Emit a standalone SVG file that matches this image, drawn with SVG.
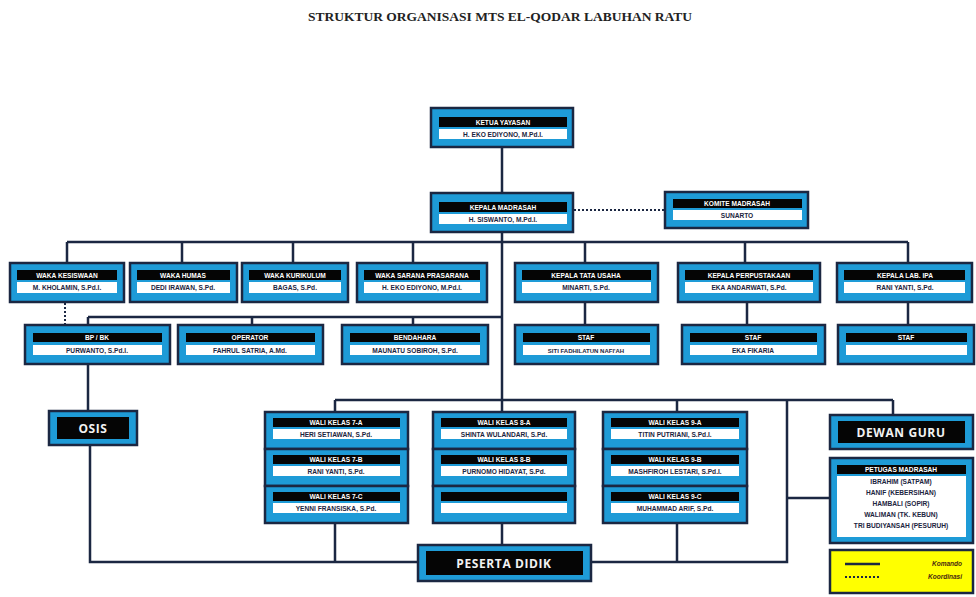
<svg xmlns="http://www.w3.org/2000/svg" width="976" height="597" viewBox="0 0 976 597">
<style>
.bx{fill:#1e9bd7;stroke:#1b2742;stroke-width:2.5}
.hd{fill:#050505}
.wt{fill:#ffffff}
.ht{fill:#ffffff;font-family:"Liberation Sans",Arial,sans-serif;font-weight:bold;font-size:6.6px;text-anchor:middle}
.nt{fill:#1b2540;font-family:"Liberation Sans",Arial,sans-serif;font-weight:bold;font-size:6.6px;text-anchor:middle}
.big{fill:#f2f2f2;font-family:"Open Sans","Liberation Sans",sans-serif;font-weight:bold;font-size:12px;text-anchor:middle;letter-spacing:0.6px}
.ln{fill:none;stroke:#1b2742;stroke-width:2.5}
.dt{fill:none;stroke:#1b2742;stroke-width:2;stroke-dasharray:2 2}
.lg{fill:#4a2a10;font-family:"Liberation Sans",Arial,sans-serif;font-style:italic;font-weight:bold;font-size:6.5px;text-anchor:end}
</style>
<rect width="976" height="597" fill="#ffffff"/>
<text x="500" y="21" font-family="Liberation Serif,'Times New Roman',serif" font-weight="bold" font-size="11.5" text-anchor="middle" fill="#222" textLength="384" lengthAdjust="spacingAndGlyphs">STRUKTUR ORGANISASI MTS EL-QODAR LABUHAN RATU</text>

<g id="connectors">
<path class="ln" d="M502,147V193"/>
<path class="dt" d="M574,210H665"/>
<path class="ln" d="M502,232V412"/>
<path class="ln" d="M67,242H908"/>
<path class="ln" d="M67,242V263M182,242V263M293,242V263M413,242V263M585,242V263M745,242V263M908,242V263"/>
<path class="dt" d="M65,303V325"/>
<path class="ln" d="M88,317H502M88,317V325M252,317V325M413,317V325"/>
<path class="ln" d="M585,302V325M747,302V325M908,302V325"/>
<path class="ln" d="M88,364V411"/>
<path class="ln" d="M90,445V562H418"/>
<path class="ln" d="M591,562H787V400"/>
<path class="ln" d="M335,400H893M335,400V412M677,400V412M893,400V415"/>
<path class="ln" d="M335,523V562M677,523V562M502,523V545"/>
<path class="ln" d="M787,498H830"/>
</g>

<g id="ketua-yayasan">
<rect class="bx" x="431" y="108" width="142" height="39"/>
<rect class="hd" x="439" y="117" width="128" height="10"/>
<rect class="wt" x="439" y="129" width="128" height="10"/>
<text class="ht" x="503" y="124.5">KETUA YAYASAN</text>
<text class="nt" x="503" y="136.5">H. EKO EDIYONO, M.Pd.I.</text>
</g>

<g id="kepala-madrasah">
<rect class="bx" x="431" y="193" width="142" height="39"/>
<rect class="hd" x="439" y="202" width="128" height="10"/>
<rect class="wt" x="439" y="214" width="128" height="10"/>
<text class="ht" x="503" y="209.5">KEPALA MADRASAH</text>
<text class="nt" x="503" y="221.5">H. SISWANTO, M.Pd.I.</text>
</g>

<g id="komite-madrasah">
<rect class="bx" x="665" y="192" width="143" height="36"/>
<rect class="hd" x="673" y="199" width="129" height="9"/>
<rect class="wt" x="673" y="210" width="129" height="10"/>
<text class="ht" x="737" y="206">KOMITE MADRASAH</text>
<text class="nt" x="737" y="217.5">SUNARTO</text>
</g>

<g id="waka-kesiswaan">
<rect class="bx" x="10" y="263" width="114" height="39"/>
<rect class="hd" x="17" y="270" width="100" height="10"/>
<rect class="wt" x="17" y="282" width="100" height="11"/>
<text class="ht" x="67" y="277.5">WAKA KESISWAAN</text>
<text class="nt" x="67" y="290">M. KHOLAMIN, S.Pd.I.</text>
</g>

<g id="waka-humas">
<rect class="bx" x="130" y="263" width="107" height="39"/>
<rect class="hd" x="137" y="270" width="93" height="10"/>
<rect class="wt" x="137" y="282" width="93" height="11"/>
<text class="ht" x="183" y="277.5">WAKA HUMAS</text>
<text class="nt" x="183" y="290">DEDI IRAWAN, S.Pd.</text>
</g>

<g id="waka-kurikulum">
<rect class="bx" x="242" y="263" width="106" height="39"/>
<rect class="hd" x="249" y="270" width="92" height="10"/>
<rect class="wt" x="249" y="282" width="92" height="11"/>
<text class="ht" x="295" y="277.5">WAKA KURIKULUM</text>
<text class="nt" x="295" y="290">BAGAS, S.Pd.</text>
</g>

<g id="waka-sarana">
<rect class="bx" x="357" y="263" width="130" height="39"/>
<rect class="hd" x="364" y="270" width="116" height="10"/>
<rect class="wt" x="364" y="282" width="116" height="11"/>
<text class="ht" x="422" y="277.5">WAKA SARANA PRASARANA</text>
<text class="nt" x="422" y="290">H. EKO EDIYONO, M.Pd.I.</text>
</g>

<g id="kepala-tu">
<rect class="bx" x="515" y="263" width="143" height="39"/>
<rect class="hd" x="522" y="270" width="129" height="10"/>
<rect class="wt" x="522" y="282" width="129" height="11"/>
<text class="ht" x="586" y="277.5">KEPALA TATA USAHA</text>
<text class="nt" x="586" y="290">MINARTI, S.Pd.</text>
</g>

<g id="kepala-perpustakaan">
<rect class="bx" x="678" y="263" width="142" height="39"/>
<rect class="hd" x="685" y="270" width="128" height="10"/>
<rect class="wt" x="685" y="282" width="128" height="11"/>
<text class="ht" x="749" y="277.5">KEPALA PERPUSTAKAAN</text>
<text class="nt" x="749" y="290">EKA ANDARWATI, S.Pd.</text>
</g>

<g id="kepala-lab">
<rect class="bx" x="837" y="263" width="135" height="39"/>
<rect class="hd" x="844" y="270" width="121" height="10"/>
<rect class="wt" x="844" y="282" width="121" height="11"/>
<text class="ht" x="905" y="277.5">KEPALA LAB. IPA</text>
<text class="nt" x="905" y="290">RANI YANTI, S.Pd.</text>
</g>

<g id="bp-bk">
<rect class="bx" x="25" y="325" width="145" height="39"/>
<rect class="hd" x="33" y="333" width="129" height="9"/>
<rect class="wt" x="33" y="345" width="129" height="10"/>
<text class="ht" x="97" y="340">BP / BK</text>
<text class="nt" x="97" y="352.5">PURWANTO, S.Pd.I.</text>
</g>

<g id="operator">
<rect class="bx" x="178" y="325" width="145" height="39"/>
<rect class="hd" x="186" y="333" width="129" height="9"/>
<rect class="wt" x="186" y="345" width="129" height="10"/>
<text class="ht" x="250" y="340">OPERATOR</text>
<text class="nt" x="250" y="352.5">FAHRUL SATRIA, A.Md.</text>
</g>

<g id="bendahara">
<rect class="bx" x="342" y="325" width="146" height="39"/>
<rect class="hd" x="350" y="333" width="130" height="9"/>
<rect class="wt" x="350" y="345" width="130" height="10"/>
<text class="ht" x="415" y="340">BENDAHARA</text>
<text class="nt" x="415" y="352.5">MAUNATU SOBIROH, S.Pd.</text>
</g>

<g id="staf-tu">
<rect class="bx" x="515" y="325" width="143" height="39"/>
<rect class="hd" x="523" y="333" width="127" height="9"/>
<rect class="wt" x="523" y="345" width="127" height="10"/>
<text class="ht" x="586" y="340">STAF</text>
<text class="nt" x="586" y="352.5" style="font-size:6px">SITI FADHILATUN NAFI'AH</text>
</g>

<g id="staf-perpustakaan">
<rect class="bx" x="682" y="325" width="143" height="39"/>
<rect class="hd" x="690" y="333" width="127" height="9"/>
<rect class="wt" x="690" y="345" width="127" height="10"/>
<text class="ht" x="753" y="340">STAF</text>
<text class="nt" x="753" y="352.5">EKA FIKARIA</text>
</g>

<g id="staf-lab">
<rect class="bx" x="838" y="325" width="136" height="39"/>
<rect class="hd" x="846" y="333" width="121" height="9"/>
<rect class="wt" x="846" y="345" width="121" height="10"/>
<text class="ht" x="906" y="340">STAF</text>
</g>

<g id="osis">
<rect class="bx" x="49" y="411" width="88" height="34"/>
<rect class="hd" x="57" y="417" width="72" height="22"/>
<text class="big" x="93" y="432.5">OSIS</text>
</g>

<g id="wali-kelas-7">
<rect class="bx" x="265" y="412" width="143" height="37"/>
<rect class="hd" x="273" y="418" width="127" height="9"/>
<rect class="wt" x="273" y="429" width="127" height="10"/>
<text class="ht" x="336" y="425">WALI KELAS 7-A</text>
<text class="nt" x="336" y="436.5">HERI SETIAWAN, S.Pd.</text>
<rect class="bx" x="265" y="449" width="143" height="37"/>
<rect class="hd" x="273" y="455" width="127" height="9"/>
<rect class="wt" x="273" y="466" width="127" height="10"/>
<text class="ht" x="336" y="462">WALI KELAS 7-B</text>
<text class="nt" x="336" y="473.5">RANI YANTI, S.Pd.</text>
<rect class="bx" x="265" y="486" width="143" height="37"/>
<rect class="hd" x="273" y="492" width="127" height="9"/>
<rect class="wt" x="273" y="503" width="127" height="10"/>
<text class="ht" x="336" y="499">WALI KELAS 7-C</text>
<text class="nt" x="336" y="510.5">YENNI FRANSISKA, S.Pd.</text>
</g>

<g id="wali-kelas-8">
<rect class="bx" x="433" y="412" width="142" height="37"/>
<rect class="hd" x="441" y="418" width="126" height="9"/>
<rect class="wt" x="441" y="429" width="126" height="10"/>
<text class="ht" x="504" y="425">WALI KELAS 8-A</text>
<text class="nt" x="504" y="436.5">SHINTA WULANDARI, S.Pd.</text>
<rect class="bx" x="433" y="449" width="142" height="37"/>
<rect class="hd" x="441" y="455" width="126" height="9"/>
<rect class="wt" x="441" y="466" width="126" height="10"/>
<text class="ht" x="504" y="462">WALI KELAS 8-B</text>
<text class="nt" x="504" y="473.5">PURNOMO HIDAYAT, S.Pd.</text>
<rect class="bx" x="433" y="486" width="142" height="37"/>
<rect class="hd" x="441" y="492" width="126" height="9"/>
<rect class="wt" x="441" y="503" width="126" height="10"/>
</g>

<g id="wali-kelas-9">
<rect class="bx" x="603" y="412" width="144" height="37"/>
<rect class="hd" x="611" y="418" width="128" height="9"/>
<rect class="wt" x="611" y="429" width="128" height="10"/>
<text class="ht" x="675" y="425">WALI KELAS 9-A</text>
<text class="nt" x="675" y="436.5">TITIN PUTRIANI, S.Pd.I.</text>
<rect class="bx" x="603" y="449" width="144" height="37"/>
<rect class="hd" x="611" y="455" width="128" height="9"/>
<rect class="wt" x="611" y="466" width="128" height="10"/>
<text class="ht" x="675" y="462">WALI KELAS 9-B</text>
<text class="nt" x="675" y="473.5">MASHFIROH LESTARI, S.Pd.I.</text>
<rect class="bx" x="603" y="486" width="144" height="37"/>
<rect class="hd" x="611" y="492" width="128" height="9"/>
<rect class="wt" x="611" y="503" width="128" height="10"/>
<text class="ht" x="675" y="499">WALI KELAS 9-C</text>
<text class="nt" x="675" y="510.5">MUHAMMAD ARIF, S.Pd.</text>
</g>

<g id="dewan-guru">
<rect class="bx" x="830" y="415" width="143" height="34"/>
<rect class="hd" x="838" y="421" width="127" height="22"/>
<text class="big" x="901" y="436.5">DEWAN GURU</text>
</g>

<g id="petugas-madrasah">
<rect class="bx" x="830" y="458" width="143" height="85"/>
<rect class="hd" x="837" y="465" width="129" height="9"/>
<rect class="wt" x="837" y="476" width="129" height="61"/>
<text class="ht" x="901" y="472">PETUGAS MADRASAH</text>
<text class="nt" x="901" y="484">IBRAHIM (SATPAM)</text>
<text class="nt" x="901" y="495">HANIF (KEBERSIHAN)</text>
<text class="nt" x="901" y="506">HAMBALI (SOPIR)</text>
<text class="nt" x="901" y="517">WALIMAN (TK. KEBUN)</text>
<text class="nt" x="901" y="528">TRI BUDIYANSAH (PESURUH)</text>
</g>

<g id="peserta-didik">
<rect class="bx" x="418" y="545" width="173" height="36"/>
<rect class="hd" x="426" y="551" width="157" height="24"/>
<text class="big" x="504" y="567.5">PESERTA DIDIK</text>
</g>

<g id="legend">
<rect x="830" y="550" width="143" height="43" fill="#ffff00" stroke="#1b2742" stroke-width="2.5"/>
<path d="M845,564H880" stroke="#1b2742" stroke-width="2.5"/>
<path d="M845,577H880" stroke="#1b2742" stroke-width="2" stroke-dasharray="2 2"/>
<text class="lg" x="962" y="566">Komando</text>
<text class="lg" x="962" y="579">Koordinasi</text>
</g>
</svg>
